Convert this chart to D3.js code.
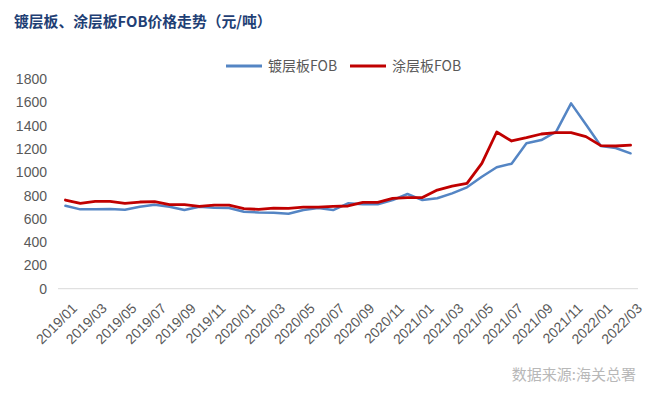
<!DOCTYPE html>
<html><head><meta charset="utf-8">
<script src="https://cdn.jsdelivr.net/npm/d3@7"></script>
<style>body{margin:0;background:#fff}svg{display:block}</style>
</head><body><svg id="c" width="660" height="397"></svg>
<script>
const months = [];
for (let y = 2019; y <= 2022; y++) for (let m = 1; m <= 12; m++) {
  if (y === 2022 && m > 3) break;
  months.push(y + "/" + String(m).padStart(2, "0"));
}
const galvanized = [712,681,681,684,678,704,721,704,675,704,695,692,661,655,652,644,675,692,675,733,725,725,761,813,761,776,818,870,961,1042,1073,1248,1276,1348,1591,1410,1225,1208,1162];
const coated = [761,733,750,750,733,744,747,721,721,707,718,718,687,681,692,690,701,701,707,710,741,741,776,782,782,847,881,904,1076,1345,1268,1296,1328,1340,1340,1305,1228,1225,1233];
const yTicks = [0,200,400,600,800,1000,1200,1400,1600,1800];
const seriesNames = ["镀层板FOB","涂层板FOB"];
const colors = ["#5485C4","#C00000"];

const svg = d3.select("#c");
const x = d3.scaleBand().domain(months).range([58, 638]);
const y = d3.scaleLinear().domain([0, 1800]).range([288.7, 79]);

svg.append("text").attr("x", 14).attr("y", 27)
  .attr("font-family", "Noto Sans CJK SC").attr("font-weight", "bold")
  .attr("font-size", 14.8).attr("fill", "#1F3F75")
  .text("镀层板、涂层板FOB价格走势（元/吨）");

// y axis labels
svg.append("g").selectAll("text").data(yTicks).join("text")
  .attr("x", 47).attr("y", d => y(d)).attr("dy", "0.36em")
  .attr("text-anchor", "end").attr("font-family", "Liberation Sans, Arial")
  .attr("font-size", 14).attr("fill", "#595959").text(d => d);

// baseline
svg.append("line").attr("x1", 58).attr("x2", 638).attr("y1", y(0)).attr("y2", y(0))
  .attr("stroke", "#D9D9D9").attr("stroke-width", 1);

// x labels
svg.append("g").selectAll("text").data(months.filter((d, i) => i % 2 === 0)).join("text")
  .attr("transform", d => `translate(${x(d) + x.bandwidth() / 2 + 9},${y(0) + 17}) rotate(-45)`)
  .attr("text-anchor", "end").attr("dy", "0.35em")
  .attr("font-family", "Liberation Sans, Arial").attr("font-size", 14)
  .attr("fill", "#595959").text(d => d);

const line = d3.line().x((d, i) => x(months[i]) + x.bandwidth() / 2).y(d => y(d));
[galvanized, coated].forEach((s, k) => {
  svg.append("path").datum(s).attr("d", line).attr("fill", "none")
    .attr("stroke", colors[k]).attr("stroke-width", k === 1 ? 2.8 : 2.5)
    .attr("stroke-linejoin", "round").attr("stroke-linecap", "round");
});

// legend
const leg = [{x: 226, name: seriesNames[0], c: colors[0]}, {x: 350, name: seriesNames[1], c: colors[1]}];
leg.forEach(l => {
  svg.append("line").attr("x1", l.x).attr("x2", l.x + 36).attr("y1", 66).attr("y2", 66)
    .attr("stroke", l.c).attr("stroke-width", 2.8);
  svg.append("text").attr("x", l.x + 42).attr("y", 66).attr("dy", "0.36em")
    .attr("font-family", "Noto Sans CJK SC").attr("font-size", 14).attr("fill", "#595959").text(l.name);
});

svg.append("text").attr("x", 636).attr("y", 380).attr("text-anchor", "end")
  .attr("font-family", "Noto Sans CJK SC").attr("font-size", 15).attr("fill", "#B8B8B8")
  .text("数据来源:海关总署");
</script></body></html>
